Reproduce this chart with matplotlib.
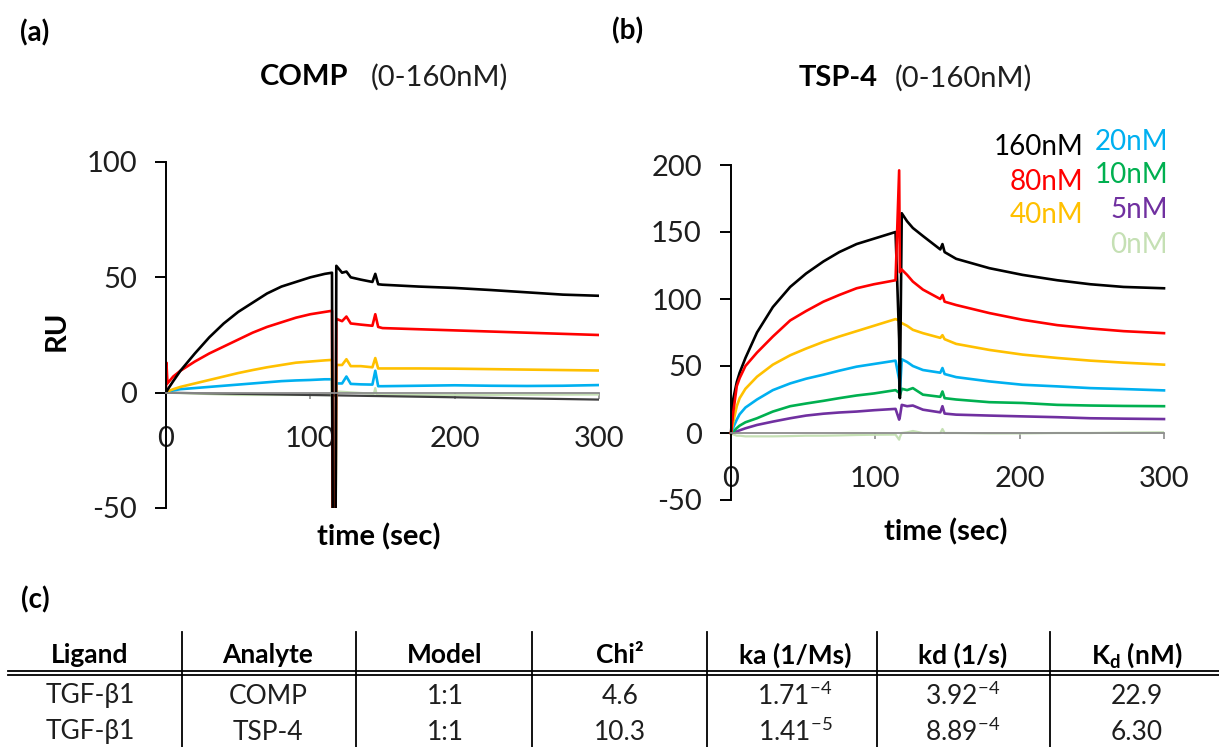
import matplotlib
matplotlib.use("Agg")
import matplotlib.pyplot as plt
from matplotlib.lines import Line2D

plt.rcParams['font.family'] = ['Lato', 'DejaVu Sans']
plt.rcParams['mathtext.fontset'] = 'custom'
plt.rcParams['mathtext.rm'] = 'Lato'
plt.rcParams['mathtext.bf'] = 'Lato:bold'
plt.rcParams['axes.unicode_minus'] = False

# ---- panel (a): COMP binding to TGF-b1 ----
t_a = [0, 0.3, 1, 5, 10, 20, 30, 40, 50, 60, 70, 80, 90, 100, 110, 115, 115.5, 117.5, 118,
       122, 125, 128, 135, 143, 145, 147, 150, 175, 200, 225, 250, 275, 300]
a_160 = [0, 0.3, 1.2, 5, 9.5, 17, 24, 30, 35, 39, 43, 46, 48, 50, 51.5, 52, -55, -55, 55,
         52, 52.5, 50, 49, 48, 51.5, 47, 46.8, 46, 45.4, 44.5, 43.5, 42.5, 42]
a_80 = [0, 13, 4, 7, 9.5, 13.5, 17, 20, 23, 26, 28.5, 30.5, 32.5, 34, 35, 35.5, -55, -55, 32,
        31, 33, 30, 29.5, 29, 34, 28.5, 28, 27.5, 27, 26.5, 26, 25.5, 25]
a_40 = [0, 0.1, 0.5, 1.5, 2.5, 4, 5.5, 7, 8.5, 9.8, 11, 12, 13, 13.5, 14, 14.2, -55, -55, 12,
        12, 14.5, 11.5, 11.5, 11, 15, 10.5, 10.5, 10.5, 10.4, 10.2, 10, 9.8, 9.6]
a_20 = [0, 0, 0.3, 1, 1.5, 2, 2.5, 3, 3.5, 4, 4.5, 5, 5.3, 5.5, 5.8, 5.8, -55, -55, 4,
        4, 7, 3.8, 3.6, 3.5, 9.5, 2.8, 2.8, 3, 3.2, 3, 2.9, 3, 3.3]
t_a_low = [0, 300]
a_low = [0, -3]
t_a_0 = [0, 50, 114, 117, 119, 144, 145, 146, 200, 300]
a_0 = [0, -1, -1, -1.5, 0.5, -0.5, 2, -1, -1, -0.8]

# ---- panel (b): TSP-4 binding to TGF-b1 ----
t_b = [0, 1.5, 4, 6, 10, 18, 29, 41, 52, 64, 75, 87, 99, 114, 116.5, 117, 118.3,
       122, 126, 133, 145, 146.5, 148, 156, 179, 202, 226, 249, 272, 300]
b_160 = [0, 25, 38, 45, 56, 75, 94, 109, 119, 128, 135, 141, 145, 150, 70, 26, 164,
         158, 153, 147, 137, 141, 135, 130, 123, 118, 114, 111, 109, 108]
b_80 = [0, 15, 35, 41, 50, 60, 72, 84, 91, 98, 103, 108, 111, 114, 196, 120, 122,
        118, 113, 107, 100, 103, 98, 95.5, 89.5, 84.5, 80.5, 78, 76, 74.5]
b_40 = [0, 8, 20, 26, 33, 42, 51, 58, 63, 68, 72, 76, 80, 85, 84, 83, 82,
        80, 77, 74.5, 71, 73, 70, 66.5, 62, 58.5, 56, 54, 52.5, 51]
b_20 = [0, 4, 10, 14, 19, 25, 32, 37, 40.5, 43.5, 46.5, 49.5, 51.5, 54, 40, 30, 55,
        53, 50, 47, 45, 48.5, 44, 41.7, 38.5, 36, 34.8, 33.5, 32.8, 31.8]
b_10 = [0, 1, 3.7, 5.5, 8, 11, 16, 20, 22, 24, 26, 28, 29.5, 32, 30, 28, 33,
        32, 33.5, 28.6, 27, 31, 26, 25, 23, 22.4, 21, 20.5, 20.2, 20]
b_5 = [0, 0.3, 1.2, 2, 3.5, 6, 8.5, 11, 13, 14.4, 15.3, 16, 17, 18, 10, 12, 21,
       20, 20.5, 17.4, 15.4, 20, 14.5, 13.7, 13, 12.4, 11.8, 11, 10.7, 10.4]
b_0 = [0, -1, -2, -2, -2.5, -2.5, -2.5, -2.3, -2, -2, -1.8, -1.5, -1.3, -1.2, -5, -3, 0,
       0.5, 1.5, 0, 0, 3, 0, 0, -0.3, -0.3, 0, 0, 0.3, 0.5]

conc_labels = ['160nM', '80nM', '40nM', '20nM', '10nM', '5nM', '0nM']
colors = {'160nM': '#000000', '80nM': '#ff0000', '40nM': '#ffc000', '20nM': '#00b0f0',
          '10nM': '#00b050', '5nM': '#7030a0', '0nM': '#c5e0b4'}

# ---- panel (c): kinetics table ----
tab_header = ['Ligand', 'Analyte', 'Model', 'Chi\u00b2', 'ka (1/Ms)', 'kd (1/s)',
              'K$_{\\mathbf{d}}$ (nM)']
tab_rows = [
    ['TGF-\u03b21', 'COMP', '1:1', '4.6', '1.71$^{\\mathregular{-4}}$',
     '3.92$^{\\mathregular{-4}}$', '22.9'],
    ['TGF-\u03b21', 'TSP-4', '1:1', '10.3', '1.41$^{\\mathregular{-5}}$',
     '8.89$^{\\mathregular{-4}}$', '6.30'],
]

W, H = 1219, 747
fig = plt.figure(figsize=(W / 100, H / 100), dpi=100)
ink = '#1e1e1e'


def px(x, y):
    return x / W, 1 - y / H


def style_axes(ax, ymin, ymax, ystep):
    ax.set_xlim(0, 300)
    ax.set_ylim(ymin, ymax)
    ax.set_xticks([0, 100, 200, 300])
    ax.set_yticks(range(ymin, ymax + 1, ystep))
    ax.spines['top'].set_visible(False)
    ax.spines['right'].set_visible(False)
    ax.spines['left'].set_linewidth(1.4)
    ax.spines['bottom'].set_position(('data', 0))
    ax.spines['bottom'].set_color('#8c8c8c')
    ax.spines['bottom'].set_linewidth(1.3)
    ax.tick_params(axis='y', direction='out', length=8, width=1.4, pad=13,
                   labelsize=21, labelcolor=ink)
    ax.tick_params(axis='x', direction='out', length=4, width=1.2, color='#8c8c8c',
                   pad=20, labelsize=21, labelcolor=ink)
    ax.patch.set_alpha(0)


# panel (a)
ax1 = fig.add_axes([166 / W, 1 - 508 / H, 433 / W, 346 / H])
style_axes(ax1, -50, 100, 50)
ax1.plot(t_a_0, a_0, color=colors['0nM'], lw=1.6)
ax1.plot(t_a_low, a_low, color='#404040', lw=1.6)
ax1.plot(t_a, a_20, color=colors['20nM'], lw=1.9)
ax1.plot(t_a, a_40, color=colors['40nM'], lw=1.9)
ax1.plot(t_a, a_80, color=colors['80nM'], lw=1.9)
ax1.plot(t_a, a_160, color=colors['160nM'], lw=1.9)

# panel (b)
ax2 = fig.add_axes([731 / W, 1 - 500 / H, 433 / W, 335 / H])
style_axes(ax2, -50, 200, 50)
ax2.plot(t_b, b_0, color=colors['0nM'], lw=1.6)
for lab, vals in zip(['5nM', '10nM', '20nM', '40nM', '160nM', '80nM'],
                     [b_5, b_10, b_20, b_40, b_160, b_80]):
    ax2.plot(t_b, vals, color=colors[lab], lw=1.9, clip_on=False)

# legend text in (b)
for lab, y in zip(conc_labels[:3], [147, 182, 215]):
    fig.text(*px(1083, y), lab, color=colors[lab], fontsize=20, ha='right', va='center')
for lab, y in zip(conc_labels[3:], [142, 175, 210, 245]):
    fig.text(*px(1168, y), lab, color=colors[lab], fontsize=20, ha='right', va='center')

# titles and labels
fig.text(*px(35, 33), '(a)', fontsize=20, fontweight='bold', ha='center', va='center')
fig.text(*px(628, 31), '(b)', fontsize=20, fontweight='bold', ha='center', va='center')
fig.text(*px(35, 600), '(c)', fontsize=20, fontweight='bold', ha='center', va='center')
fig.text(*px(348, 77), 'COMP', fontsize=21, fontweight='bold', ha='right', va='center')
fig.text(*px(371, 77), '(0-160nM)', fontsize=21, ha='left', va='center', color=ink)
fig.text(*px(878, 78), 'TSP-4', fontsize=21, fontweight='bold', ha='right', va='center')
fig.text(*px(895, 78), '(0-160nM)', fontsize=21, ha='left', va='center', color=ink)
fig.text(*px(57, 331), 'RU', fontsize=21, fontweight='bold', rotation=90,
         ha='center', va='center')
fig.text(*px(379, 537), 'time (sec)', fontsize=21, fontweight='bold', ha='center', va='center')
fig.text(*px(946, 532), 'time (sec)', fontsize=21, fontweight='bold', ha='center', va='center')

# table
col_x = [90, 268, 445, 620, 795, 963, 1137]
col_sep = [182, 356, 532, 707, 877, 1050]
for x, txt in zip(col_x, tab_header):
    fig.text(*px(x, 655), txt, fontsize=19, fontweight='bold', ha='center', va='center')
for row, y in zip(tab_rows, [696, 732]):
    for x, txt in zip(col_x, row):
        fig.text(*px(x, y), txt, fontsize=19, ha='center', va='center', color=ink)
for y in [671, 674.5]:
    fig.add_artist(Line2D([8 / W, 1], [1 - y / H, 1 - y / H], color='black', lw=1.3))
for x in col_sep:
    fig.add_artist(Line2D([x / W, x / W], [1 - 632 / H, 0], color='black', lw=1.3))

fig.savefig('out.png', dpi=100)
